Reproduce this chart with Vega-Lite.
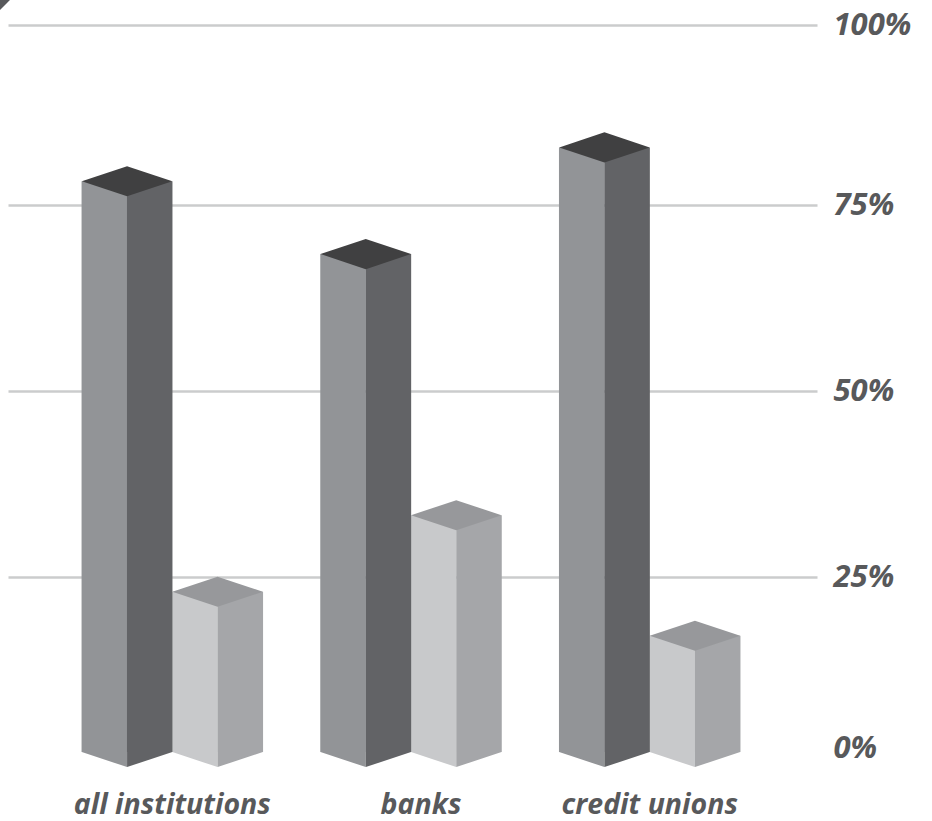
{
  "$schema": "https://vega.github.io/schema/vega-lite/v6.json",
  "width": 809,
  "height": 821,
  "padding": {"left": 8, "top": 0, "right": 115, "bottom": 0},
  "autosize": {"type": "none"},
  "background": "white",
  "view": {"stroke": null},
  "config": {"axis": {"labelFont": "Open Sans", "labelFontStyle": "italic", "labelFontWeight": "bold", "labelColor": "#58595b", "labelLimit": 400}},
  "data": {
    "values": [
      {"institution": "all institutions", "series": "first", "value": 78.3},
      {"institution": "all institutions", "series": "second", "value": 22.9},
      {"institution": "banks", "series": "first", "value": 68.4},
      {"institution": "banks", "series": "second", "value": 33.3},
      {"institution": "credit unions", "series": "first", "value": 83},
      {"institution": "credit unions", "series": "second", "value": 16.6}
    ]
  },
  "encoding": {
    "x": {
      "field": "institution",
      "type": "nominal",
      "sort": null,
      "scale": {"type": "band", "paddingInner": 0, "paddingOuter": 0.1946, "align": 0.484},
      "axis": {
        "title": null,
        "orient": "bottom",
        "offset": -821,
        "domain": false,
        "ticks": false,
        "labelAngle": 0,
        "labelFontSize": 28.5,
        "labelPadding": 790,
        "labelBaseline": "top",
        "labelOverlap": false,
        "labelBound": false,
        "labelOffset": {"expr": "datum.value === 'banks' ? 10 : 0"}
      }
    },
    "y": {
      "field": "value",
      "type": "quantitative",
      "scale": {"domain": [0, 25, 50, 75, 100], "range": [752, 577, 391, 205, 25], "nice": false, "clamp": false},
      "axis": {
        "title": null,
        "orient": "right",
        "values": [0, 25, 50, 75, 100],
        "domain": false,
        "ticks": false,
        "grid": true,
        "gridColor": "#cbcccd",
        "gridWidth": 2.5,
        "gridOpacity": {"expr": "datum.value === 0 ? 0 : 1"},
        "labelFontSize": 31,
        "labelPadding": 16,
        "labelAlign": "left",
        "labelBaseline": "middle",
        "labelOffset": {"expr": "datum.value === 0 ? -4 : 0"},
        "labelBound": false,
        "labelFlush": false,
        "labelOverlap": false,
        "labelExpr": "datum.value + '%'"
      }
    }
  },
  "layer": [
    {
      "description": "left face of each column",
      "mark": {"type": "bar", "width": 45.5, "stroke": null, "xOffset": {"expr": "datum.series === 'first' ? -68 : 22.6"}},
      "encoding": {
        "y2": {"datum": 0},
        "color": {"condition": {"test": "datum.series === 'first'", "value": "#929497"}, "value": "#c8c9cb"}
      }
    },
    {
      "description": "right face of each column",
      "mark": {"type": "bar", "width": 45.5, "stroke": null, "xOffset": {"expr": "datum.series === 'first' ? -22.6 : 68"}},
      "encoding": {
        "y2": {"datum": 0},
        "color": {"condition": {"test": "datum.series === 'first'", "value": "#626366"}, "value": "#a5a6a9"}
      }
    },
    {
      "description": "lower-left facet at the column base",
      "mark": {"type": "point", "filled": true, "opacity": 1, "size": 8190, "shape": "M-1,0L0,0L0,0.333Z", "xOffset": {"expr": "datum.series === 'first' ? -45.25 : 45.25"}},
      "encoding": {
        "y": {"datum": 0},
        "color": {"condition": {"test": "datum.series === 'first'", "value": "#929497"}, "value": "#c8c9cb"}
      }
    },
    {
      "description": "lower-right facet at the column base",
      "mark": {"type": "point", "filled": true, "opacity": 1, "size": 8190, "shape": "M0,0L1,0L0,0.333Z", "xOffset": {"expr": "datum.series === 'first' ? -45.25 : 45.25"}},
      "encoding": {
        "y": {"datum": 0},
        "color": {"condition": {"test": "datum.series === 'first'", "value": "#626366"}, "value": "#a5a6a9"}
      }
    },
    {
      "description": "diamond cap centred on the value",
      "mark": {"type": "point", "filled": true, "opacity": 1, "size": 8190, "shape": "M-1,0L0,-0.333L1,0L0,0.333Z", "xOffset": {"expr": "datum.series === 'first' ? -45.25 : 45.25"}},
      "encoding": {
        "color": {"condition": {"test": "datum.series === 'first'", "value": "#404041"}, "value": "#97989b"}
      }
    },
    {
      "description": "dark corner ornament at the top left",
      "data": {"values": [{"institution": "all institutions", "value": 103.47}]},
      "mark": {"type": "point", "filled": true, "opacity": 1, "size": 400, "shape": "M0,0L1,0L0,1Z", "color": "#58595b", "xOffset": -172.35},
      "encoding": {}
    }
  ]
}
